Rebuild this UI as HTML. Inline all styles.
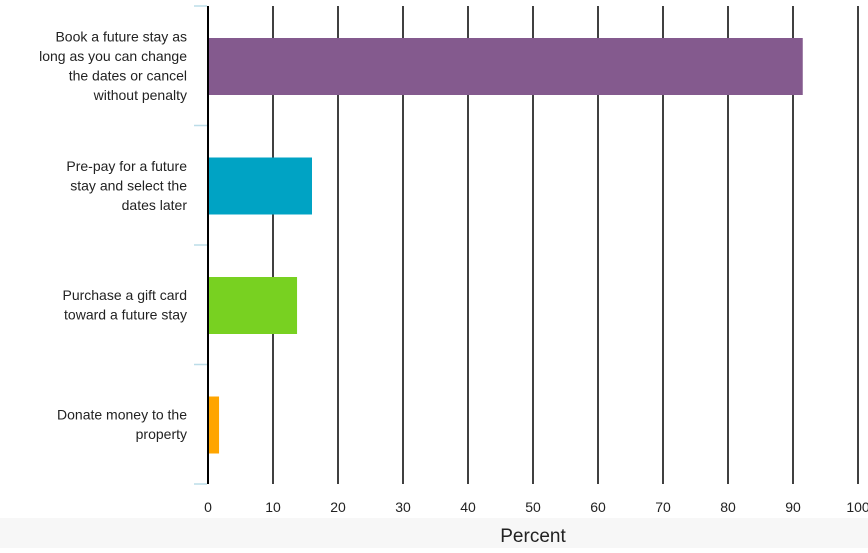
<!DOCTYPE html>
<html><head><meta charset="utf-8"><style>
body{margin:0;background:#fff;font-family:"Liberation Sans",sans-serif}
</style></head><body>
<svg width="868" height="548" xmlns="http://www.w3.org/2000/svg">
<rect x="0" y="518" width="868" height="30" fill="#f7f7f7"/>
<g id="grid"></g><g id="bars"></g><g id="labels"></g><g id="ticks"></g>
<text x="533" y="542" font-size="19" text-anchor="middle" fill="#222">Percent</text>
</svg>
<script>
const categories=[["Book a future stay as","long as you can change","the dates or cancel","without penalty"],["Pre-pay for a future","stay and select the","dates later"],["Purchase a gift card","toward a future stay"],["Donate money to the","property"]];
const values=[91.5,16,13.7,1.7];
const colors=["#845a8e","#00a3c4","#78d121","#ffa500"];
const tickLabels=[0,10,20,30,40,50,60,70,80,90,100];
const NS="http://www.w3.org/2000/svg";
const x0=208,x1=858,yTop=6,yBot=484;
const xs=v=>x0+(x1-x0)*v/100;
const band=(yBot-yTop)/categories.length;
function mk(t,a,p){const e=document.createElementNS(NS,t);for(const k in a)e.setAttribute(k,a[k]);document.getElementById(p).appendChild(e);return e;}
tickLabels.forEach(t=>{
 const l=mk("line",{x1:xs(t),x2:xs(t),y1:yTop,y2:yBot,stroke:"#000","stroke-width":t===0?2:1.5},"grid");
 
 
 const tx=mk("text",{x:xs(t),y:512,"font-size":14,"text-anchor":"middle",fill:"#222"},"ticks");
 tx.textContent=t;
 
 
});
for(let i=0;i<=categories.length;i++){
 const l=mk("line",{x1:194,x2:207,y1:yTop+i*band,y2:yTop+i*band,stroke:"#bcdde8","stroke-width":1.5},"grid");
 
 
}
categories.forEach((c,i)=>{
 const by=yTop+i*band+32;
 const r=mk("rect",{x:x0+1,y:by,width:xs(values[i])-x0-1,height:57,fill:colors[i]},"bars");
 
 
 const cy=yTop+i*band+band/2;
 const n=c.length,lh=19.5;
 const t=mk("text",{x:187,"font-size":14,"text-anchor":"end",fill:"#222"},"labels");
 
 
 c.forEach((s,j)=>{const ts=document.createElementNS(NS,"tspan");ts.setAttribute("x",187);ts.setAttribute("y",cy-(n-1)*lh/2+j*lh+5);ts.textContent=s;t.appendChild(ts);});
});
</script>
</body></html>
